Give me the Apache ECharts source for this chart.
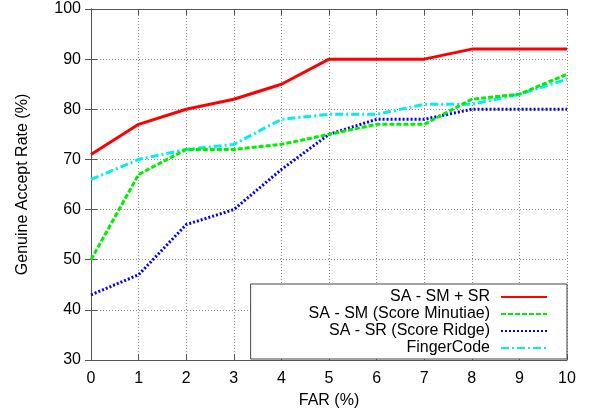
<!DOCTYPE html>
<html>
<head>
<meta charset="utf-8">
<script src="https://cdn.jsdelivr.net/npm/echarts@6/dist/echarts.min.js"></script>
<style>
  html, body { margin: 0; padding: 0; background: #fff; }
  #chart { width: 589px; height: 415px; }
</style>
</head>
<body>
<div id="chart"></div>
<script>
// FAR values on the x axis
var far = [0, 1, 2, 3, 4, 5, 6, 7, 8, 9, 10];

// genuine accept rate for each method
var smPlusSr = [71, 77, 80, 82, 85, 90, 90, 90, 92, 92, 92];
var scoreMinutiae = [50, 67, 72, 72, 73, 75, 77, 77, 82, 83, 87];
var scoreRidge = [43, 47, 57, 60, 68, 75, 78, 78, 80, 80, 80];
var fingerCode = [66, 70, 72, 73, 78, 79, 79, 81, 81, 83, 86];

var names = ['SA - SM + SR', 'SA - SM (Score Minutiae)', 'SA - SR (Score Ridge)', 'FingerCode'];

function pairs(ys) {
  return far.map(function (x, i) { return [x, ys[i]]; });
}

var font = 'Liberation Sans, Arial, sans-serif';
var gridLine = { show: true, lineStyle: { color: '#888', type: [1, 2], width: 1 } };

var chart = echarts.init(document.getElementById('chart'));

var option = {
  animation: false,
  backgroundColor: '#fff',
  textStyle: { fontFamily: font },
  grid: { left: 91, right: 22, top: 9, bottom: 55 },
  legend: {
    orient: 'vertical',
    right: 22,
    bottom: 56,
    align: 'right',
    backgroundColor: '#fff',
    borderColor: '#444',
    borderWidth: 1,
    borderRadius: 0,
    padding: [5, 19, 3, 58],
    itemGap: 1,
    itemWidth: 46,
    itemHeight: 14,
    itemStyle: { opacity: 0 },
    textStyle: { fontSize: 16, color: '#000', fontFamily: font, padding: [0, 6, 0, 0] },
    data: names
  },
  xAxis: [{
    type: 'value',
    min: 0, max: 10, interval: 1,
    name: 'FAR (%)',
    nameLocation: 'middle',
    nameGap: 33,
    nameTextStyle: { fontSize: 16, color: '#000' },
    axisLine: { show: true, lineStyle: { color: '#555' } },
    axisTick: { inside: true, length: 6, lineStyle: { color: '#555' } },
    axisLabel: { fontSize: 16, color: '#000', margin: 11 },
    splitLine: gridLine
  }, {
    type: 'value', position: 'top',
    min: 0, max: 10, interval: 1,
    axisLine: { show: true, lineStyle: { color: '#555' } },
    axisTick: { inside: true, length: 6, lineStyle: { color: '#555' } },
    axisLabel: { show: false },
    splitLine: { show: false }
  }],
  yAxis: [{
    type: 'value',
    min: 30, max: 100, interval: 10,
    name: 'Genuine Accept Rate (%)',
    nameLocation: 'middle',
    nameGap: 60,
    nameTextStyle: { fontSize: 16, color: '#000' },
    axisLine: { show: true, lineStyle: { color: '#555' } },
    axisTick: { inside: true, length: 6, lineStyle: { color: '#555' } },
    axisLabel: { fontSize: 16, color: '#000', margin: 10 },
    splitLine: gridLine
  }, {
    type: 'value', position: 'right',
    min: 30, max: 100, interval: 10,
    axisLine: { show: true, lineStyle: { color: '#555' } },
    axisTick: { inside: true, length: 6, lineStyle: { color: '#555' } },
    axisLabel: { show: false },
    splitLine: { show: false }
  }],
  series: [
    {
      name: names[0], type: 'line', symbol: 'none',
      color: '#ff0000',
      lineStyle: { width: 3, color: '#ff0000', type: 'solid' },
      data: pairs(smPlusSr), z: 5
    },
    {
      name: names[1], type: 'line', symbol: 'none',
      color: '#00ee00',
      lineStyle: { width: 3, color: '#00ee00', type: [5, 2] },
      data: pairs(scoreMinutiae), z: 4
    },
    {
      name: names[2], type: 'line', symbol: 'none',
      color: '#0000ee',
      lineStyle: { width: 3, color: '#0000ee', type: [2, 2] },
      data: pairs(scoreRidge), z: 3
    },
    {
      name: names[3], type: 'line', symbol: 'none',
      color: '#00eeee',
      lineStyle: { width: 3, color: '#00eeee', type: [8, 3, 2, 3] },
      data: pairs(fingerCode), z: 2
    }
  ]
};

chart.setOption(option);
</script>
</body>
</html>
